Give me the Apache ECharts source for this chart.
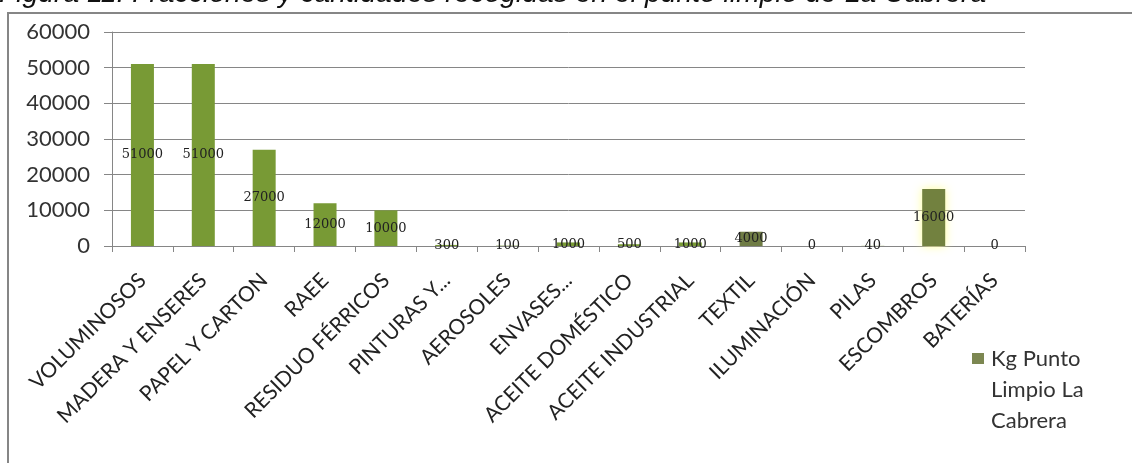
<!DOCTYPE html>
<html>
<head>
<meta charset="utf-8">
<script src="https://cdn.jsdelivr.net/npm/echarts@6/dist/echarts.min.js"></script>
<style>html,body{margin:0;padding:0;background:#fff}#c{width:1132px;height:463px}</style>
</head>
<body>
<div id="c"></div>
<script>
const titleText = 'Figura 11: Fracciones y cantidades recogidas en el punto limpio de La Cabrera';
const categories = ['VOLUMINOSOS','MADERA Y ENSERES','PAPEL Y CARTON','RAEE','RESIDUO FÉRRICOS','PINTURAS Y...','AEROSOLES','ENVASES...','ACEITE DOMÉSTICO','ACEITE INDUSTRIAL','TEXTIL','ILUMINACIÓN','PILAS','ESCOMBROS','BATERÍAS'];
const values = [51000, 51000, 27000, 12000, 10000, 300, 100, 1000, 500, 1000, 4000, 0, 40, 16000, 0];
const seriesName = 'Kg Punto Limpio La Cabrera';
const yTicks = [0, 10000, 20000, 30000, 40000, 50000, 60000];

const chart = echarts.init(document.getElementById('c'), null, {renderer: 'canvas'});
const barData = values.map((v, i) => {
  const o = {value: v};
  if (categories[i] === 'ESCOMBROS') o.itemStyle = {color: '#72813f', shadowColor: 'rgba(255,255,140,0.9)', shadowBlur: 10};
  if (categories[i] === 'TEXTIL') o.itemStyle = {color: '#6f7c45'};
  return o;
});
chart.setOption({
  animation: false,
  backgroundColor: '#fff',
  graphic: [
    {type: 'rect', shape: {x: 8, y: 13, width: 1140, height: 470}, style: {fill: 'none', stroke: '#868686', lineWidth: 2}, z: -1},
    {type: 'text', x: -1, y: -20, style: {text: titleText, font: 'italic 28.3px "Liberation Sans"', fill: '#111', verticalAlign: 'top'}}
  ],
  grid: {left: 112, right: 107, top: 32, bottom: 217, containLabel: false},
  legend: {
    left: 972, top: 281, padding: 0,
    itemWidth: 12, itemHeight: 11, itemGap: 0,
    icon: 'rect',
    formatter: () => '\n\nKg Punto\nLimpio La\nCabrera',
    textStyle: {fontFamily: 'Lato', fontSize: 22, lineHeight: 31, color: '#333', padding: [0, 0, 0, 2]},
    data: [{name: seriesName, itemStyle: {color: '#7c8751'}}]
  },
  xAxis: {
    type: 'category',
    data: categories,
    axisLine: {lineStyle: {color: '#868686', width: 1}},
    axisTick: {show: true, alignWithLabel: false, length: 6, lineStyle: {color: '#868686'}},
    axisLabel: {rotate: 45, interval: 0, margin: 31, fontFamily: 'Lato', fontSize: 21, color: '#222'}
  },
  yAxis: {
    type: 'value',
    min: 0, max: 60000, interval: 10000,
    axisLine: {show: true, lineStyle: {color: '#868686'}},
    axisTick: {show: true, length: 8, lineStyle: {color: '#868686'}},
    splitLine: {lineStyle: {color: '#868686', width: 1}},
    axisLabel: {
      margin: 22, fontFamily: 'Lato', fontSize: 22, color: '#333',
      formatter: v => yTicks.includes(v) ? String(v) : ''
    }
  },
  series: [{
    name: seriesName,
    type: 'bar',
    data: barData,
    barWidth: 23,
    itemStyle: {color: '#789a35'},
    label: {show: true, position: 'inside', fontFamily: 'DejaVu Serif', fontSize: 13, color: '#222'}
  }]
});
</script>
</body>
</html>
